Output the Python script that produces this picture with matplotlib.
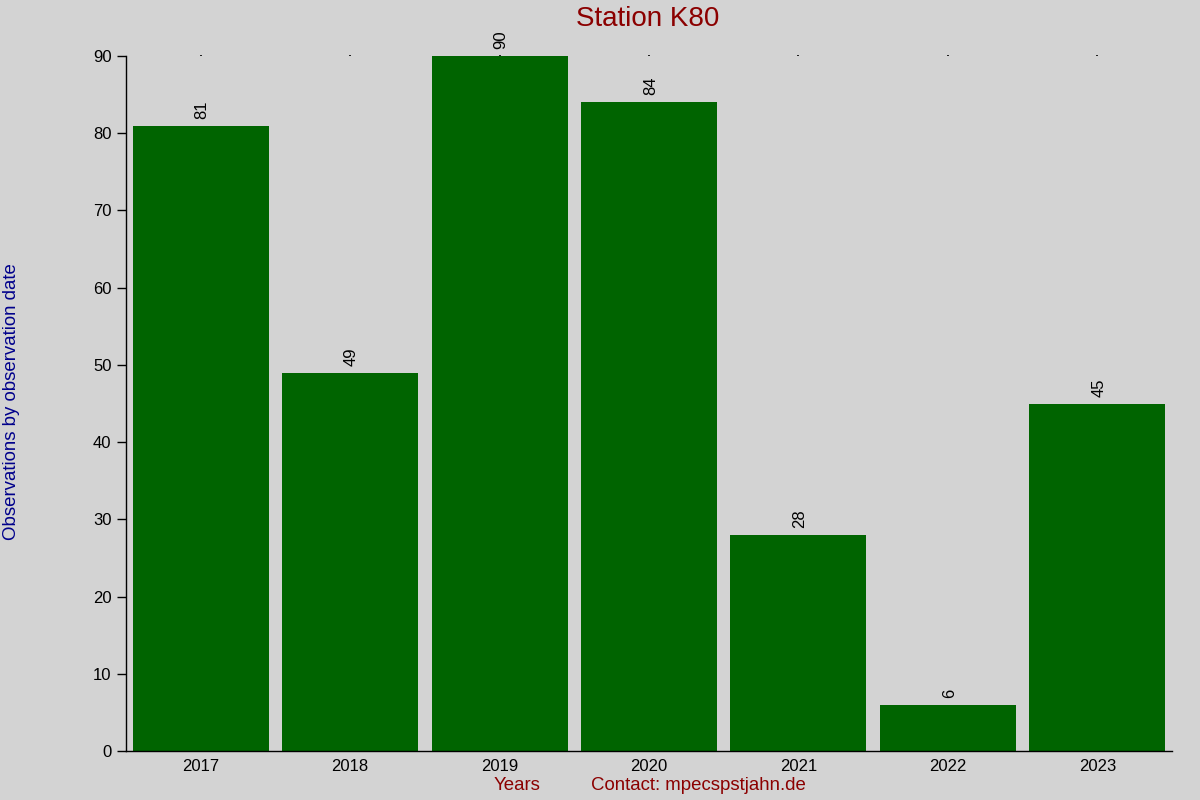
import matplotlib
matplotlib.use("Agg")
import matplotlib.pyplot as plt

years = ["2017", "2018", "2019", "2020", "2021", "2022", "2023"]
counts = [81, 49, 90, 84, 28, 6, 45]
yticks = [0, 10, 20, 30, 40, 50, 60, 70, 80, 90]

plt.rcParams['font.family'] = ['Liberation Sans', 'DejaVu Sans']
bg = '#d3d3d3'
fig = plt.figure(figsize=(12, 8), dpi=100, facecolor=bg)
ax = fig.add_axes([126/1200, 49/800, (1172-126)/1200, (751-56)/800])
ax.set_facecolor(bg)

x = list(range(len(years)))
bars = ax.bar(x, counts, width=0.91, color='#006400')
for xi, v in zip(x, counts):
    ax.annotate(str(v), (xi, v), xytext=(1, 5), textcoords='offset points',
                rotation=90, ha='center', va='bottom', fontsize=12, color='black')

ax.set_xlim(-0.5, len(years) - 0.5)
ax.set_ylim(0, 90)
ax.set_xticks(x)
ax.set_xticklabels(years)
ax.set_yticks(yticks)
ax.tick_params(axis='x', bottom=False, top=True, length=1, width=1.2, color='black',
               labelbottom=True, labeltop=False, labelsize=12, pad=5)
ax.tick_params(axis='y', length=6.5, width=1, labelsize=12, pad=4)
for s in ['top', 'right']:
    ax.spines[s].set_visible(False)
for s in ['left', 'bottom']:
    ax.spines[s].set_linewidth(1)

fig.text(648/1200, 1 - 19/800, "Station K80", ha='center', va='center',
         fontsize=20, color='#8b0000')
fig.text(517/1200, 1 - 786/800, "Years", ha='center', va='center',
         fontsize=13.4, color='#8b0000')
fig.text(698/1200, 1 - 786/800, "Contact: mpecspstjahn.de", ha='center', va='center',
         fontsize=13.4, color='#8b0000')
fig.text(12/1200, 1 - 402/800, "Observations by observation date", ha='center', va='center',
         rotation=90, fontsize=13.4, color='#00008b')

fig.savefig("out.png", dpi=100, facecolor=bg)
